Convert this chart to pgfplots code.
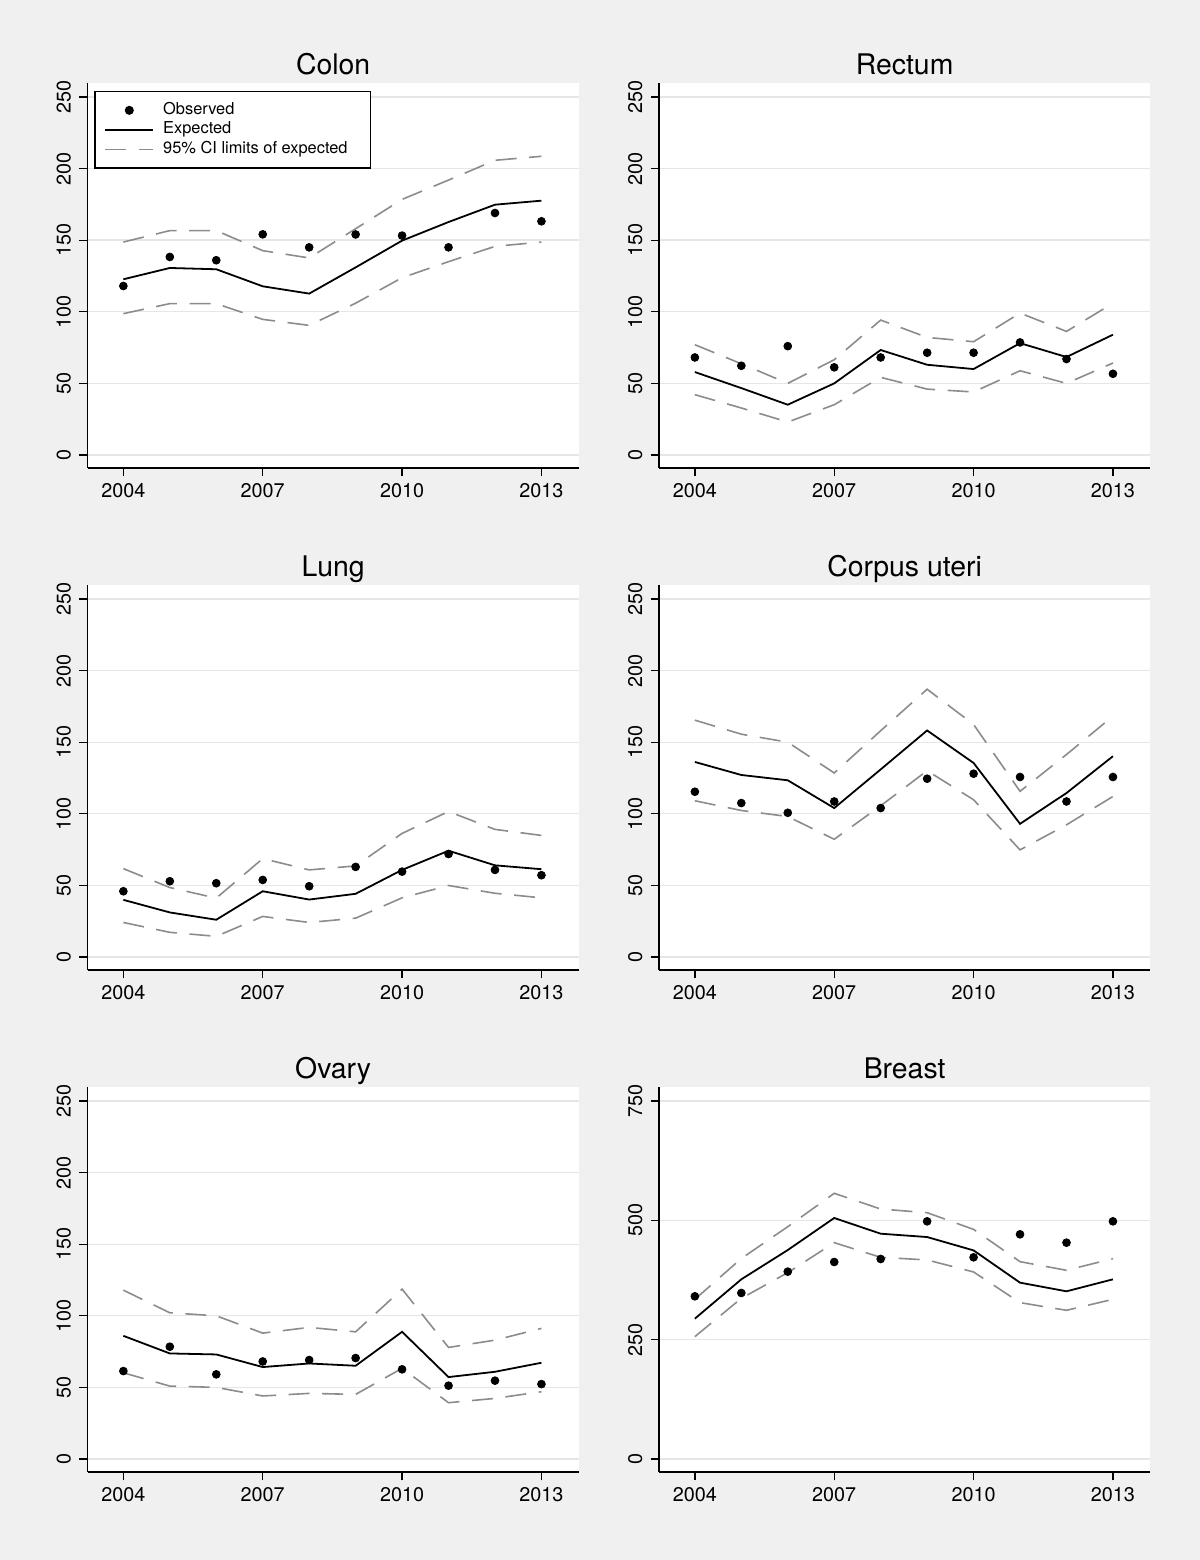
\documentclass[border=0pt]{standalone}
\usepackage{pgfplots}
\pgfplotsset{compat=1.18}
\usepackage{pgfplotstable}
\usepackage{fontspec}
\setmainfont{TeX Gyre Heros}
\definecolor{bgc}{RGB}{240,240,240}
\definecolor{gridc}{RGB}{230,230,230}
\definecolor{cic}{RGB}{140,140,140}

\pgfplotstableread{
year obs exp up lo
2004 118 122.7 148.7 98.7
2005 138.3 130.6 156.7 105.7
2006 136 129.7 156.7 105.7
2007 154.1 117.8 142.7 94.7
2008 145 112.7 137.6 90.5
2009 154 131 158 106
2010 153.2 149.7 178.5 123.8
2011 145 162.7 192 135
2012 169 174.8 205.8 145.7
2013 163.2 177.6 208.6 148.7
}\colon

\pgfplotstableread{
year obs exp up lo
2004 68.1 57.9 77 42.1
2005 62.3 46.7 63.7 32.8
2006 76.0 35.1 50 23
2007 61.2 50 66.5 35.1
2008 68.1 73.3 94.2 54.2
2009 71.4 63 82.1 46
2010 71.4 60 79.1 44
2011 78.6 78.1 99.1 58.8
2012 67 68.4 86.3 50
2013 56.7 84 106 64.2
}\rectum

\pgfplotstableread{
year obs exp up lo
2004 45.9 39.9 61.7 24.1
2005 52.9 31.1 48.5 17.2
2006 51.5 26 41.1 14.4
2007 53.8 45.9 68.7 28.3
2008 49.4 40.1 60.8 24.1
2009 62.9 44.1 63.6 27.1
2010 59.6 60.8 86.3 41.3
2011 71.9 74.2 101.6 49.9
2012 60.8 64 89.1 44.5
2013 57.1 61.3 84.9 41.3
}\lung

\pgfplotstableread{
year obs exp up lo
2004 115.4 136.2 165.4 109.1
2005 107.5 127.1 155.6 102.3
2006 100.7 123.4 150 98.1
2007 108.6 104 128.5 82.2
2008 104 131 158 105.6
2009 124.5 158.2 187 130.1
2010 128 135.5 162.4 109.8
2011 125.7 93 115.7 74.8
2012 108.6 114.5 141.4 92.3
2013 125.7 140.2 168.2 112.1
}\corpus

\pgfplotstableread{
year obs exp up lo
2004 61.4 86 117.9 60.2
2005 78.4 73.7 102.1 50.9
2006 59.1 73 100 50
2007 68.1 64.2 87.9 44
2008 69.1 66.7 91.9 45.8
2009 70.5 65.1 88.8 45.1
2010 62.6 88.8 118.6 63.3
2011 51.2 57.2 77.9 39.3
2012 54.7 60.9 83 42.3
2013 52.3 67.2 91.2 47
}\ovary

\pgfplotstableread{
year obs exp up lo
2004 340.8 294 334.5 256.3
2005 347.8 376.4 420 336.6
2006 392.5 437.8 486.7 390.4
2007 412.7 504.9 556.6 453.2
2008 419 472 523.7 422.5
2009 497.9 465 516 417
2010 422.5 437 481 391.8
2011 470.7 369.4 413.4 327.5
2012 453.2 351.3 395.3 311.5
2013 497.9 376.4 419.7 334.5
}\breast

\pgfplotsset{
  panel/.style={
    anchor=south west, scale only axis,
    width=245.5pt, height=192.5pt,
    xmin=2003.23, xmax=2013.8,
    ymin=-9.1, ymax=259.8,
    ytick={0,50,100,150,200,250},
    xtick={2004,2007,2010,2013},
    axis lines*=left,
    axis line style={line width=0.65pt, black},
    axis background/.style={fill=white},
    tick align=outside,
    major tick length=4.15pt,
    tick style={line width=0.65pt, black},
    ymajorgrids,
    grid style={gridc, line width=0.7pt},
    /pgf/number format/assume math mode=true,
    /pgf/number format/1000 sep={},
    ticklabel style={font=\fontsize{9.9}{11}\selectfont},
    yticklabel style={rotate=90, anchor=south, inner sep=4pt},
    xticklabel style={anchor=north, inner sep=3.5pt},
    title style={font=\fontsize{14.2}{16}\selectfont, at={(0.5,1)}, anchor=base, yshift=-2pt, inner sep=0pt},
  },
  obsst/.style={only marks, mark=*, mark size=1.95pt, black,
    legend image code/.code={\path[draw=none,fill=none] (0pt,0pt) -- (24pt,0pt); \fill[black] (12pt,0pt) circle (1.95pt);}},
  expst/.style={black, line width=0.9pt, no marks,
    legend image code/.code={\draw[black, line width=0.9pt] (0pt,0pt) -- (24pt,0pt);}},
  cist/.style={cic, line width=0.8pt, no marks, dash pattern=on 10.5pt off 6.3pt,
    legend image code/.code={\draw[cic, line width=0.8pt, dash pattern=on 10.5pt off 6.3pt] (0pt,0pt) -- (24pt,0pt);}},
}

\newcommand{\panelplots}[1]{%
  \addplot[cist, forget plot] table[x=year, y=up] {#1};
  \addplot[cist, forget plot] table[x=year, y=lo] {#1};
  \addplot[expst, forget plot] table[x=year, y=exp] {#1};
  \addplot[obsst, forget plot] table[x=year, y=obs] {#1};
}

\begin{document}
\begin{tikzpicture}
\useasboundingbox (0pt,0pt) rectangle (600pt,780pt);
\fill[bgc] (0pt,0pt) rectangle (600pt,780pt);

\begin{axis}[panel, at={(43.8pt,546pt)}, title={Colon},
  legend style={at={(0,1)}, anchor=north west, xshift=3.35pt, yshift=-4pt,
    draw=black, line width=0.6pt, fill=white,
    font=\fontsize{8.2}{9.5}\selectfont,
    inner xsep=4.75pt, inner ysep=4.5pt, column sep=2.5pt, row sep=0pt,
    nodes={inner xsep=2pt, inner ysep=0pt, text height=6.9pt, text depth=2.85pt}},
  legend cell align=left]
  \addplot[obsst] table[x=year, y=obs] {\colon};
  \addlegendentry{\makebox[97pt][l]{Observed}}
  \addplot[expst] table[x=year, y=exp] {\colon};
  \addlegendentry{\makebox[97pt][l]{Expected}}
  \addplot[cist] table[x=year, y=up] {\colon};
  \addlegendentry{\makebox[97pt][l]{95\% CI limits of expected}}
  \addplot[cist, forget plot] table[x=year, y=lo] {\colon};
\end{axis}

\begin{axis}[panel, at={(329.55pt,546pt)}, title={Rectum}]
  \panelplots{\rectum}
\end{axis}

\begin{axis}[panel, at={(43.8pt,295pt)}, title={Lung}]
  \panelplots{\lung}
\end{axis}

\begin{axis}[panel, at={(329.55pt,295pt)}, title={Corpus uteri}]
  \panelplots{\corpus}
\end{axis}

\begin{axis}[panel, at={(43.8pt,44pt)}, title={Ovary}]
  \panelplots{\ovary}
\end{axis}

\begin{axis}[panel, at={(329.55pt,44pt)}, title={Breast},
  ymin=-27.3, ymax=779.4, ytick={0,250,500,750}]
  \panelplots{\breast}
\end{axis}
\end{tikzpicture}
\end{document}
